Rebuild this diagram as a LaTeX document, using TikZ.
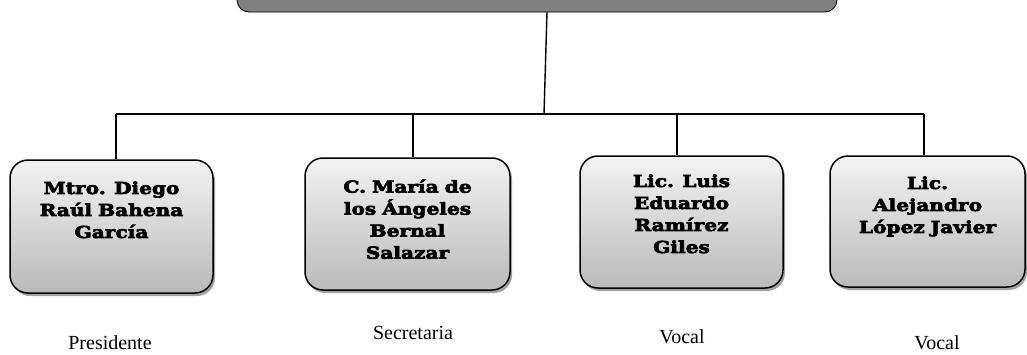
\documentclass[tikz,border=0pt]{standalone}
\usepackage{fontspec}
\setmainfont{Liberation Serif}
\newfontfamily\boxfont[FakeStretch=1.22, WordSpace=0.85, BoldFeatures={FakeBold=4}]{DejaVu Serif}
\usetikzlibrary{shadows}
\begin{document}
\begin{tikzpicture}[x=1pt,y=-1pt,
  conn/.style={line width=1.4pt, black},
  topbox/.style={draw=black, line width=0.8pt, fill=black!50, rounded corners=12pt,
    minimum width=600pt, minimum height=44pt, inner sep=0pt},
  personbox/.style={draw=black, line width=1.5pt, rounded corners=18pt,
    top color=black!5, bottom color=black!27, inner sep=0pt,
    drop shadow={shadow xshift=2pt, shadow yshift=-3pt, fill=black!45, opacity=0.8}},
  nametext/.style={font=\boxfont\bfseries\fontsize{16.5}{22}\selectfont, align=center,
    anchor=north, inner sep=0pt},
  roletext/.style={font=\fontsize{20}{22}\selectfont, inner sep=0pt}
]
\useasboundingbox (0,0) rectangle (1027,354);
% top box (cut off at the top edge)
\node[topbox] (top) at (537,-10) {};
% person boxes
\node[personbox, minimum width=203pt, minimum height=133pt] (b1) at (111.5,226.5) {};
\node[personbox, minimum width=205pt, minimum height=132pt] (b2) at (407.5,224) {};
\node[personbox, minimum width=203pt, minimum height=132pt] (b3) at (681.5,222) {};
\node[personbox, minimum width=195pt, minimum height=131pt] (b4) at (927.5,221.5) {};
% names
\node[nametext] (t1) at ([yshift=-22pt]b1.north) {Mtro. Diego\\Raúl Bahena\\García};
\node[nametext] (t2) at ([yshift=-22pt]b2.north) {C. María de\\los Ángeles\\Bernal\\Salazar};
\node[nametext] (t3) at ([yshift=-19pt]b3.north) {Lic. Luis\\Eduardo\\Ramírez\\Giles};
\node[nametext] (t4) at ([yshift=-21pt]b4.north) {Lic.\\Alejandro\\López Javier};
% roles
\node[roletext] (r1) at (110,343) {Presidente};
\node[roletext] (r2) at (413,333) {Secretaria};
\node[roletext] (r3) at (682,337) {Vocal};
\node[roletext] (r4) at (937,343) {Vocal};
% connectors
\coordinate (tj) at (547,12);
\coordinate (bj) at (544,114);
\coordinate (d1) at (116,114);
\coordinate (d2) at (413,114);
\coordinate (d3) at (677,114);
\coordinate (d4) at (924,114);
\draw[conn] (tj) -- (bj);
\draw[conn] (d1) -- (d4);
\draw[conn] (d1) -- (d1 |- b1.north);
\draw[conn] (d2) -- (d2 |- b2.north);
\draw[conn] (d3) -- (d3 |- b3.north);
\draw[conn] (d4) -- (d4 |- b4.north);
\end{tikzpicture}
\end{document}
